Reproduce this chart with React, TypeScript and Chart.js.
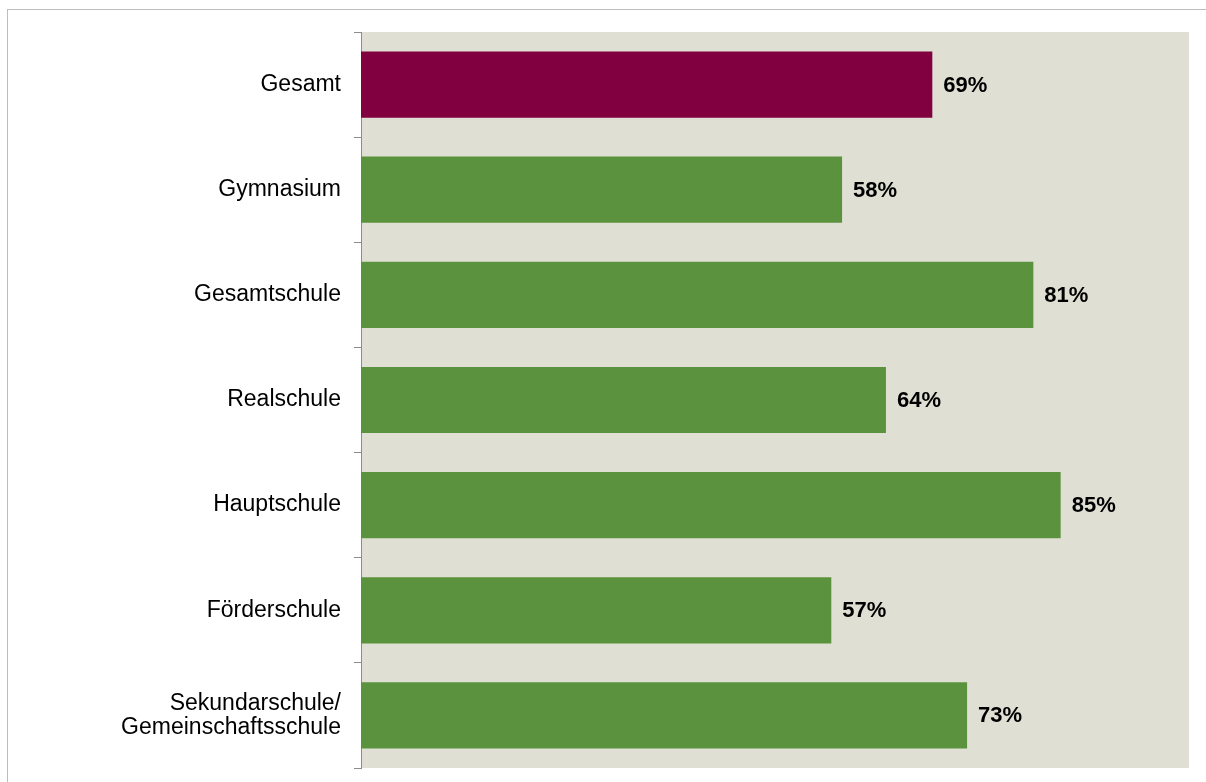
import React, { useEffect, useRef } from "react";
import { Chart, registerables } from "chart.js";

Chart.register(...registerables);

const categories: (string | string[])[] = [
  "Gesamt",
  "Gymnasium",
  "Gesamtschule",
  "Realschule",
  "Hauptschule",
  "Förderschule",
  ["Sekundarschule/", "Gemeinschaftsschule"],
];
const shares = [69.0, 58.1, 81.2, 63.4, 84.5, 56.8, 73.2];
const valueLabels = ["69%", "58%", "81%", "64%", "85%", "57%", "73%"];
const barColors = ["#800040", "#5B923D", "#5B923D", "#5B923D", "#5B923D", "#5B923D", "#5B923D"];

const FONT = "'Liberation Sans', Arial, sans-serif";

export default function App() {
  const ref = useRef<HTMLCanvasElement | null>(null);

  useEffect(() => {
    document.body.style.margin = "0";
    const bgPlugin = {
      id: "plotBg",
      beforeDraw(chart: any) {
        const { ctx, chartArea } = chart;
        ctx.save();
        ctx.fillStyle = "#DFE0D3";
        ctx.fillRect(chartArea.left, chartArea.top, chartArea.right - chartArea.left, chartArea.bottom - chartArea.top);
        ctx.restore();
      },
    };
    const labelPlugin = {
      id: "valLabels",
      afterDatasetsDraw(chart: any) {
        const { ctx } = chart;
        const meta = chart.getDatasetMeta(0);
        ctx.save();
        ctx.font = `bold 22px ${FONT}`;
        ctx.fillStyle = "#000";
        ctx.textAlign = "left";
        ctx.textBaseline = "middle";
        meta.data.forEach((el: any, i: number) => {
          ctx.fillText(valueLabels[i], el.x + 11, el.y + 1);
        });
        ctx.restore();
      },
    };
    const chart = new Chart(ref.current!, {
      type: "bar",
      data: {
        labels: categories,
        datasets: [
          {
            data: shares,
            backgroundColor: barColors,
            categoryPercentage: 1,
            barPercentage: 0.63,
          },
        ],
      },
      options: {
        indexAxis: "y",
        animation: false,
        responsive: false,
        maintainAspectRatio: false,
        layout: { padding: { left: 0, top: 32, right: 17, bottom: 14 } },
        plugins: { legend: { display: false }, tooltip: { enabled: false } },
        scales: {
          x: {
            display: false,
            min: 0,
            max: 100,
          },
          y: {
            afterFit(scale: any) {
              scale.width = 361;
              scale.paddingTop = 0;
              scale.paddingBottom = 0;
            },
            border: { display: true, color: "#8C8C8C", width: 1 },
            grid: {
              display: true,
              drawOnChartArea: false,
              drawTicks: true,
              tickLength: 7,
              color: "#8C8C8C",
              offset: true,
            },
            ticks: {
              color: "#000",
              font: { family: FONT, size: 23, lineHeight: 1.05 },
              padding: 13,
            },
          },
        },
      },
      plugins: [bgPlugin, labelPlugin],
    });
    return () => chart.destroy();
  }, []);

  return (
    <div style={{ position: "relative", width: 1206, height: 782, background: "#fff", overflow: "hidden" }}>
      <div
        style={{
          position: "absolute",
          left: 7,
          top: 9,
          width: 1220,
          height: 800,
          border: "1px solid #BDBDBD",
          boxSizing: "border-box",
        }}
      />
      <canvas ref={ref} width={1206} height={782} style={{ position: "absolute", left: 0, top: 0, display: "block" }} />
    </div>
  );
}
